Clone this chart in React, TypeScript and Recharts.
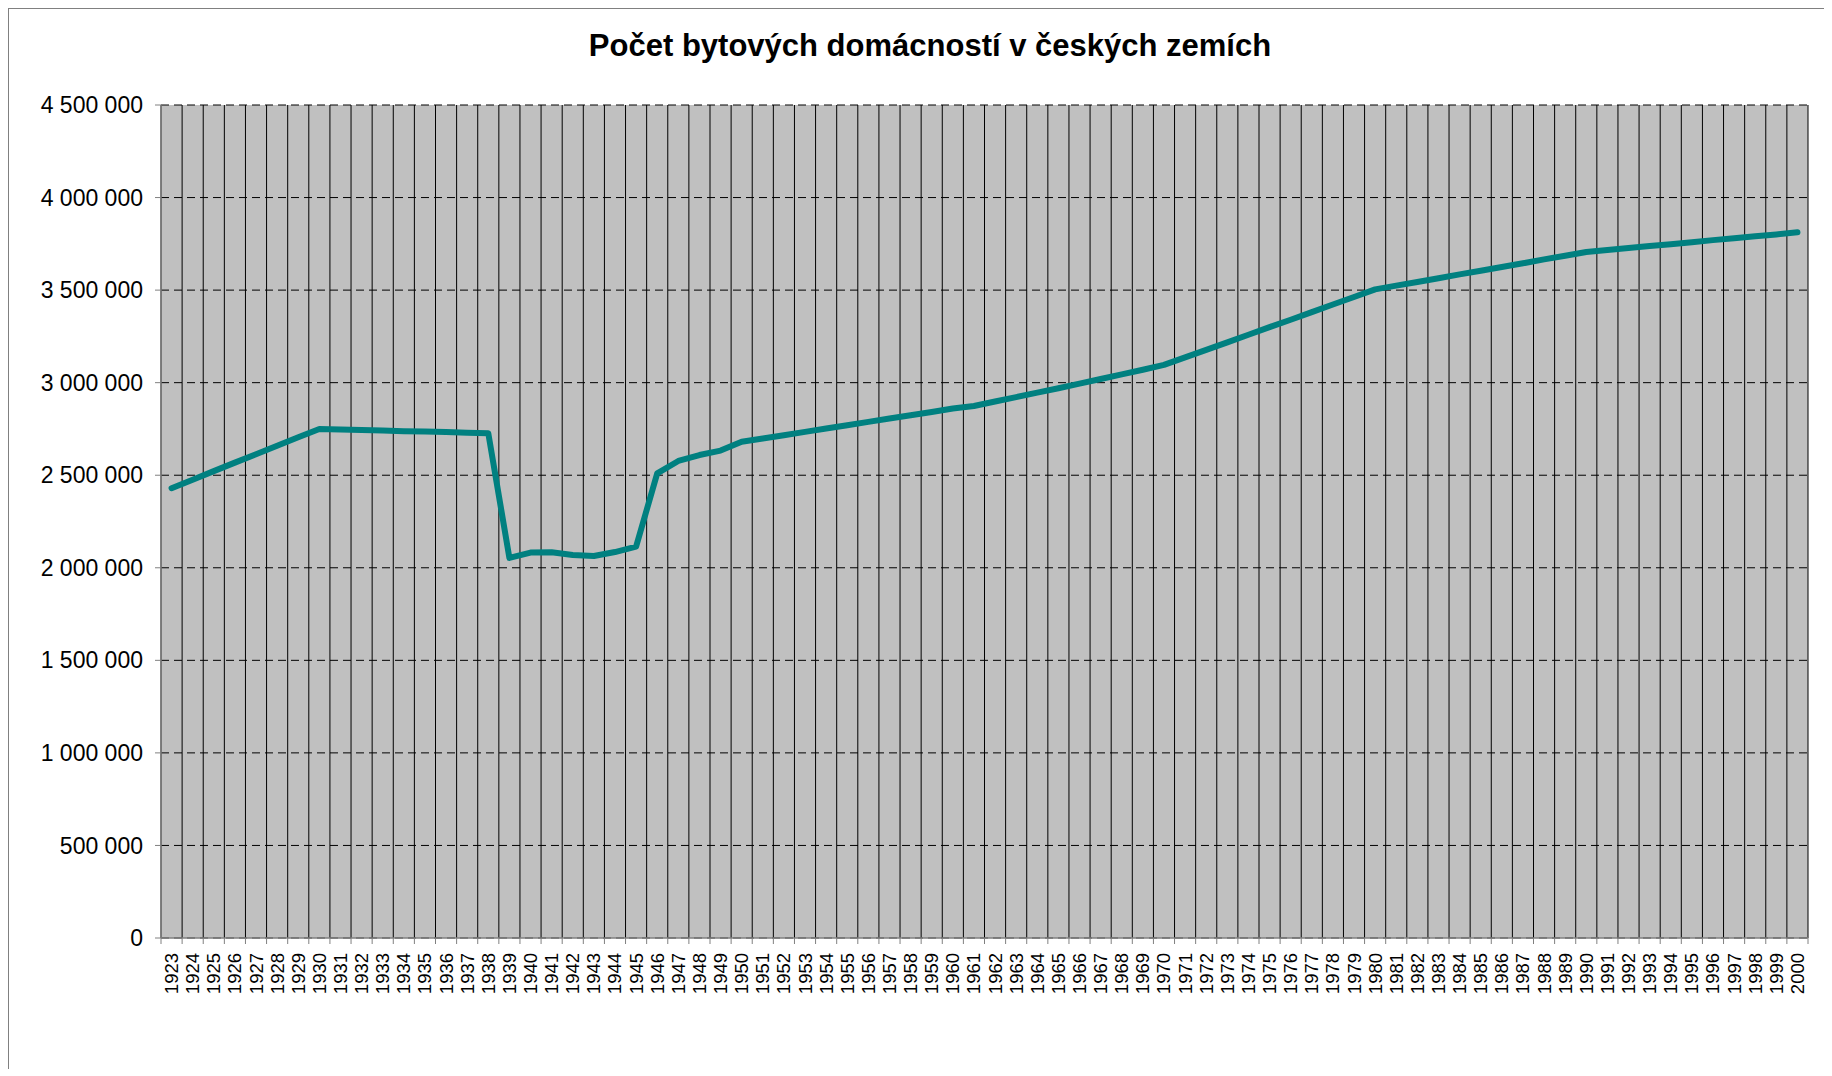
import React from "react";
import { LineChart, Line, XAxis, YAxis, CartesianGrid } from "recharts";

const years = [
  "1923","1924","1925","1926","1927","1928","1929","1930","1931","1932",
  "1933","1934","1935","1936","1937","1938","1939","1940","1941","1942",
  "1943","1944","1945","1946","1947","1948","1949","1950","1951","1952",
  "1953","1954","1955","1956","1957","1958","1959","1960","1961","1962",
  "1963","1964","1965","1966","1967","1968","1969","1970","1971","1972",
  "1973","1974","1975","1976","1977","1978","1979","1980","1981","1982",
  "1983","1984","1985","1986","1987","1988","1989","1990","1991","1992",
  "1993","1994","1995","1996","1997","1998","1999","2000",
];

const households = [
  2430000, 2476000, 2522000, 2568000, 2613000, 2659000, 2705000, 2750000, 2747000, 2744000,
  2741000, 2738000, 2736000, 2733000, 2730000, 2727000, 2053000, 2082000, 2084000, 2069000,
  2064000, 2085000, 2114000, 2510000, 2577000, 2609000, 2633000, 2681000, 2698000, 2716000,
  2734000, 2752000, 2770000, 2788000, 2806000, 2824000, 2842000, 2860000, 2874000, 2898000,
  2922000, 2946000, 2970000, 2995000, 3020000, 3045000, 3070000, 3096000, 3137000, 3177000,
  3218000, 3259000, 3300000, 3340000, 3381000, 3422000, 3463000, 3504000, 3524000, 3544000,
  3564000, 3585000, 3605000, 3625000, 3645000, 3666000, 3686000, 3706000, 3717000, 3727000,
  3738000, 3748000, 3759000, 3770000, 3780000, 3791000, 3801000, 3812000,
];

const yTicks = [0, 500000, 1000000, 1500000, 2000000, 2500000, 3000000, 3500000, 4000000, 4500000];

const title = "Počet bytových domácností v českých zemích";

const data = years.map((year, i) => ({ year, value: households[i] }));

const FONT = '"Liberation Sans", Arial, Helvetica, sans-serif';
const CHART_W = 1820;
const CHART_H = 1060;
const MARGIN = { top: 96, right: 21, left: 0, bottom: 0 };
const Y_AXIS_W = 152;
const X_AXIS_H = 131;
const PLOT_W = CHART_W - MARGIN.left - MARGIN.right - Y_AXIS_W;
const BAND = PLOT_W / years.length;

const fmt = (v: number) => String(v).replace(/\B(?=(\d{3})+(?!\d))/g, " ");

function XTick(props: any) {
  const { x, y, payload, index } = props;
  const axisY = y - 6;
  const half = BAND / 2;
  return (
    <g>
      <line x1={x - half} y1={axisY} x2={x - half} y2={axisY + 6} stroke="#808080" strokeWidth={1} />
      {index === years.length - 1 && (
        <line x1={x + half} y1={axisY} x2={x + half} y2={axisY + 6} stroke="#808080" strokeWidth={1} />
      )}
      <text
        transform={`translate(${x},${axisY + 15}) rotate(-90)`}
        textAnchor="end"
        dominantBaseline="central"
        fontSize={18.5}
        fontFamily={FONT}
        fill="#000"
      >
        {payload.value}
      </text>
    </g>
  );
}

export default function App() {
  return (
    <div
      style={{
        position: "relative",
        width: CHART_W,
        height: CHART_H,
        borderLeft: "1px solid #808080",
        borderTop: "1px solid #808080",
        background: "#fff",
        fontFamily: FONT,
      }}
    >
      <div
        style={{
          position: "absolute",
          left: 921,
          top: 21,
          transform: "translateX(-50%)",
          whiteSpace: "nowrap",
          fontSize: 31,
          lineHeight: "31px",
          fontWeight: "bold",
          color: "#000",
          fontFamily: FONT,
        }}
      >
        {title}
      </div>
      <LineChart width={CHART_W} height={CHART_H} data={data} margin={MARGIN}>
        <CartesianGrid
          horizontal={true}
          vertical={false}
          fill="#C0C0C0"
          fillOpacity={1}
          stroke="#000"
          strokeDasharray="8 5"
        />
        <CartesianGrid
          horizontal={false}
          vertical={true}
          stroke="#000"
          verticalCoordinatesGenerator={(p: any) => {
            const off = p.offset;
            return Array.from({ length: years.length + 1 }, (_, i) => off.left + (i * off.width) / years.length);
          }}
        />
        <XAxis
          dataKey="year"
          interval={0}
          height={X_AXIS_H}
          padding={{ left: BAND / 2, right: BAND / 2 }}
          tickLine={false}
          tickSize={6}
          tickMargin={0}
          axisLine={{ stroke: "#808080", strokeWidth: 1.5 }}
          tick={<XTick />}
        />
        <YAxis
          width={Y_AXIS_W}
          domain={[0, 4500000]}
          ticks={yTicks}
          interval={0}
          tickFormatter={fmt}
          tickSize={6}
          tickMargin={12}
          axisLine={{ stroke: "#808080", strokeWidth: 1.5 }}
          tickLine={{ stroke: "#808080" }}
          tick={{ fontSize: 23, fill: "#000", fontFamily: FONT }}
        />
        <Line
          type="linear"
          dataKey="value"
          stroke="#008080"
          strokeWidth={6}
          strokeLinecap="round"
          strokeLinejoin="round"
          dot={false}
          activeDot={false}
          isAnimationActive={false}
        />
      </LineChart>
    </div>
  );
}
